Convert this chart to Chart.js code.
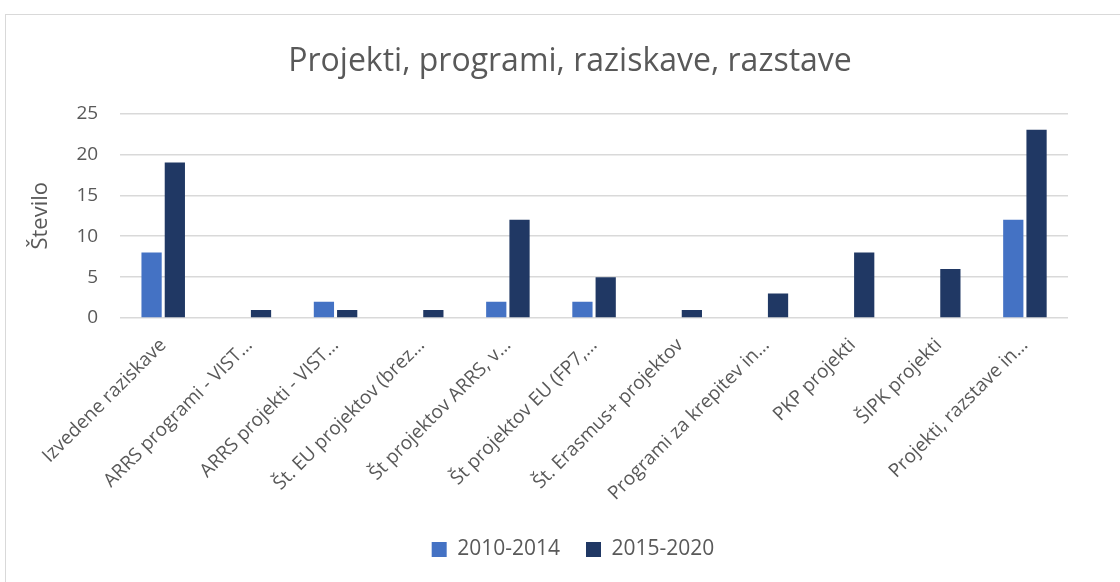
<!DOCTYPE html>
<html>
<head>
<meta charset="utf-8">
<script src="https://cdn.jsdelivr.net/npm/chart.js@4"></script>
<style>
  body { margin: 0; background: #fff; }
  #okvir { position: absolute; left: 5px; top: 14px; width: 1120px; height: 580px; border: 1px solid #d9d9d9; box-sizing: border-box; }
  #graf { position: absolute; left: 0; top: 0; }
</style>
</head>
<body>
<div id="okvir"></div>
<canvas id="graf" width="1120" height="582"></canvas>
<script>
// kategorije (oznake so skrajšane kot v izvirniku)
const kategorije = [
  'Izvedene raziskave',
  'ARRS programi - VIST…',
  'ARRS projekti - VIST…',
  'Št. EU projektov (brez…',
  'Št projektov ARRS, v…',
  'Št projektov EU (FP7,…',
  'Št. Erasmus+ projektov',
  'Programi za krepitev in…',
  'PKP projekti',
  'ŠIPK projekti',
  'Projekti, razstave in…'
];
const obdobje1 = [8, 0, 2, 0, 2, 2, 0, 0, 0, 0, 12];   // 2010-2014
const obdobje2 = [19, 1, 1, 1, 12, 5, 1, 3, 8, 6, 23]; // 2015-2020
const yTicks = [0, 5, 10, 15, 20, 25];

const pisava = "'Open Sans', 'Noto Sans', sans-serif";
const siva = '#595959';

// naslov in legenda sta v izvirniku nekoliko desno od sredine platna
const zamik = {
  id: 'zamik',
  afterLayout(chart) {
    chart.titleBlock.left += 24;
    chart.titleBlock.right += 24;
    chart.legend.left += 27;
    chart.legend.right += 27;
  }
};

const ctx = document.getElementById('graf').getContext('2d');

new Chart(ctx, {
  type: 'bar',
  data: {
    labels: kategorije,
    datasets: [{
      label: '2010-2014',
      data: obdobje1,
      backgroundColor: '#4472c4',
      categoryPercentage: 0.54,
      barPercentage: 0.87
    },
    {
      label: '2015-2020',
      data: obdobje2,
      backgroundColor: '#203864',
      categoryPercentage: 0.54,
      barPercentage: 0.87
    }]
  },
  plugins: [zamik],
  options: {
    responsive: false,
    animation: false,
    layout: {
      padding: { left: 24, right: 52, top: 43, bottom: 12 }
    },
    plugins: {
      title: {
        display: true,
        text: 'Projekti, programi, raziskave, razstave',
        color: siva,
        font: { family: pisava, size: 32, weight: 'normal' },
        padding: { top: 0, bottom: 32 }
      },
      legend: {
        position: 'bottom',
        labels: {
          color: siva,
          font: { family: pisava, size: 21 },
          boxWidth: 15,
          boxHeight: 15,
          padding: 26
        }
      },
      tooltip: { enabled: false }
    },
    scales: {
      x: {
        grid: { display: false },
        border: { display: false },
        ticks: {
          color: siva,
          font: { family: pisava, size: 19 },
          minRotation: 45,
          maxRotation: 45,
          autoSkip: false,
          padding: 8
        }
      },
      y: {
        min: 0,
        max: 25,
        afterBuildTicks: axis => { axis.ticks = yTicks.map(v => ({ value: v })); },
        grid: { color: '#d9d9d9', lineWidth: 1.5, drawTicks: false },
        border: { display: false },
        ticks: {
          color: siva,
          font: { family: pisava, size: 19 },
          padding: 22
        },
        title: {
          display: true,
          text: 'Število',
          color: siva,
          font: { family: pisava, size: 22 },
          padding: { bottom: 0 }
        }
      }
    }
  }
});
</script>
</body>
</html>
